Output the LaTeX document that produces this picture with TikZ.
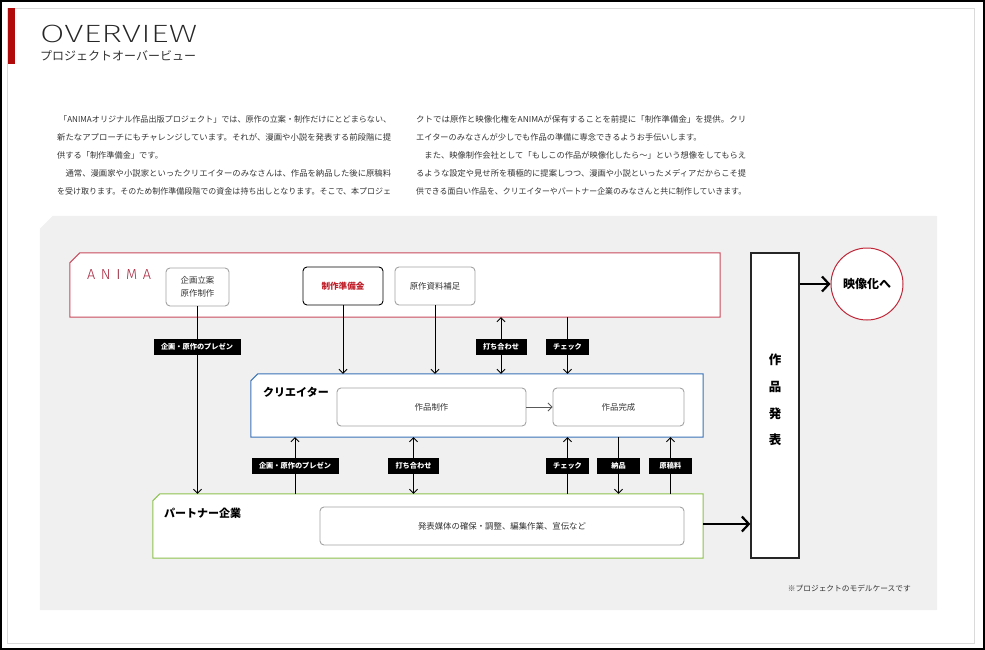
\documentclass[tikz,border=0pt]{standalone}
\usepackage{fontspec}
\usepackage{graphicx}
\setmainfont{Noto Sans CJK JP}
\newfontfamily\latinfont{Liberation Sans}
\IfFontExistsTF{Fira Sans ExtraLight}{\newfontfamily\thinfont{Fira Sans ExtraLight}}{%
  \IfFontExistsTF{Fira Sans Light}{\newfontfamily\thinfont{Fira Sans Light}}{\newfontfamily\thinfont{Liberation Sans}}}
\IfFontExistsTF{Fira Sans Light}{\newfontfamily\lightfont{Fira Sans Light}}{\newfontfamily\lightfont{Liberation Sans}}
\usetikzlibrary{arrows.meta}
\definecolor{barred}{HTML}{B00A0A}
\definecolor{animared}{HTML}{C84B5C}
\definecolor{animatext}{HTML}{A82840}
\definecolor{animai}{HTML}{8A0A22}
\definecolor{creblue}{HTML}{3A72B8}
\definecolor{pargreen}{HTML}{8DC24F}
\definecolor{bggray}{HTML}{F0F0F0}
\definecolor{txtgray}{HTML}{333333}
\definecolor{boxgray}{HTML}{A3A3A3}
\definecolor{redtxt}{HTML}{C0202A}
\definecolor{circred}{HTML}{C0283A}
\definecolor{framegray}{HTML}{DADADA}
\tikzset{
  bodytext/.style={anchor=west, inner sep=0pt, text=txtgray, font=\fontsize{8.2pt}{10pt}\selectfont},
  bigbox/.style={rectangle, inner sep=0pt},
  bigline/.style={fill=white, line width=1pt},
  innerbox/.style={draw=boxgray, fill=white, rounded corners=4pt, line width=0.9pt, inner sep=0pt,
     text=txtgray, font=\fontsize{8.4pt}{13pt}\selectfont, align=center},
  lbl/.style={fill=black, text=white, font=\bfseries\fontsize{7.2pt}{8pt}\selectfont,
     minimum height=16pt, inner xsep=7.5pt, inner ysep=0pt},
  conn/.style={line width=0.9pt, draw=black},
  tip/.style={-{Straight Barb[length=4pt,width=8pt,line width=0.9pt]}},
  tips/.style={{Straight Barb[length=4pt,width=8pt,line width=0.9pt]}-{Straight Barb[length=4pt,width=8pt,line width=0.9pt]}},
  bigarrow/.style={line width=2.4pt, -{Straight Barb[length=7pt,width=15pt,line width=2.2pt]}},
  boxtitle/.style={anchor=west, inner sep=0pt, font=\bfseries\fontsize{11pt}{12pt}\selectfont, text=black}
}
\begin{document}
\begin{tikzpicture}[x=1pt,y=-1pt]
\useasboundingbox (0,0) rectangle (985,650);
% frames
\draw[framegray, line width=0.8pt] (7,8) rectangle (974,643);
\draw[black, line width=1.6pt] (0.8,0.8) rectangle (984.2,649.2);
\fill[barred] (8,8) rectangle (15,64);
% title
\node[anchor=west, inner sep=0pt, text=black!85] (title) at (40,34)
  {\thinfont\fontsize{25pt}{26pt}\selectfont\resizebox{157pt}{\height}{OVERVIEW}};
\node[anchor=west, inner sep=0pt, text=txtgray, font=\fontsize{12pt}{13pt}\selectfont] (subtitle) at (40,56)
  {プロジェクトオーバービュー};
% body text
\node[bodytext] (l1) at (59,119) {\resizebox{332pt}{\height}{「ANIMAオリジナル作品出版プロジェクト」では、原作の立案・制作だけにとどまらない、}};
\node[bodytext] (l2) at (57,137.2) {\resizebox{334pt}{\height}{新たなアプローチにもチャレンジしています。それが、漫画や小説を発表する前段階に提}};
\node[bodytext] (l3) at (57,155.4) {供する「制作準備金」です。};
\node[bodytext] (l4) at (57,173.6) {\resizebox{334pt}{\height}{　通常、漫画家や小説家といったクリエイターのみなさんは、作品を納品した後に原稿料}};
\node[bodytext] (l5) at (57,191.8) {\resizebox{334pt}{\height}{を受け取ります。そのため制作準備段階での資金は持ち出しとなります。そこで、本プロジェ}};
\node[bodytext] (r1) at (416,119) {\resizebox{330pt}{\height}{クトでは原作と映像化権をANIMAが保有することを前提に「制作準備金」を提供。クリ}};
\node[bodytext] (r2) at (416,137.2) {エイターのみなさんが少しでも作品の準備に専念できるようお手伝いします。};
\node[bodytext] (r3) at (416,155.4) {\resizebox{330pt}{\height}{　また、映像制作会社として「もしこの作品が映像化したら〜」という想像をしてもらえ}};
\node[bodytext] (r4) at (416,173.6) {\resizebox{330pt}{\height}{るような設定や見せ所を積極的に提案しつつ、漫画や小説といったメディアだからこそ提}};
\node[bodytext] (r5) at (416,191.8) {\resizebox{330pt}{\height}{供できる面白い作品を、クリエイターやパートナー企業のみなさんと共に制作していきます。}};
% background
\node[bigbox, minimum width=897pt, minimum height=394pt] (bg) at (488.5,413) {};
\fill[bggray] ([xshift=13pt]bg.north west) -- (bg.north east) -- (bg.south east) -- (bg.south west) -- ([yshift=-13pt]bg.north west) -- cycle;
% big boxes
\node[bigbox, minimum width=650pt, minimum height=64pt] (anima) at (395,285) {};
\filldraw[bigline, draw=animared] ([xshift=10pt]anima.north west) -- (anima.north east) -- (anima.south east) -- (anima.south west) -- ([yshift=-10pt]anima.north west) -- cycle;
\node[bigbox, minimum width=452pt, minimum height=63pt] (creator) at (477,405.5) {};
\filldraw[bigline, draw=creblue] ([xshift=7pt]creator.north west) -- (creator.north east) -- (creator.south east) -- (creator.south west) -- ([yshift=-7pt]creator.north west) -- cycle;
\node[bigbox, minimum width=550pt, minimum height=64pt] (partner) at (428,526) {};
\filldraw[bigline, draw=pargreen] ([xshift=7pt]partner.north west) -- (partner.north east) -- (partner.south east) -- (partner.south west) -- ([yshift=-7pt]partner.north west) -- cycle;
\node[draw=black!85, fill=white, line width=1.3pt, inner sep=0pt, minimum width=48pt, minimum height=305pt] (happyo) at (775,405.5) {};
\node[circle, draw=circred, fill=white, line width=1pt, inner sep=0pt, minimum size=72pt,
      font=\bfseries\fontsize{12pt}{13pt}\selectfont] (circ) at (867,284) {映像化へ};
% box titles
\node[anchor=west, inner sep=0pt, text=animatext] (animalogo) at (87,274.5)
  {\lightfont\fontsize{14.5pt}{15pt}\selectfont A\hspace{5.6pt}N\hspace{5.6pt}{\color{animai}I}\hspace{5.6pt}M\hspace{5.6pt}A};
\node[boxtitle] (cretitle) at (263,392) {クリエイター};
\node[boxtitle] (partitle) at (164,513) {パートナー企業};
\node[inner sep=0pt, align=center, font=\bfseries\fontsize{12.5pt}{26.7pt}\selectfont] (happyotxt) at (775,400) {作\\品\\発\\表};
% inner boxes
\node[innerbox, minimum width=63pt, minimum height=38pt] (kikaku) at (197.5,287) {企画立案\\原作制作};
\node[innerbox, draw=black, minimum width=80pt, minimum height=38pt, text=redtxt,
      font=\bfseries\fontsize{8.6pt}{10pt}\selectfont] (junbi) at (343,286) {制作準備金};
\node[innerbox, minimum width=80pt, minimum height=38pt] (shiryo) at (435,286) {原作資料補足};
\node[innerbox, minimum width=189pt, minimum height=38pt] (seisaku) at (431.5,407) {作品制作};
\node[innerbox, minimum width=131pt, minimum height=38pt] (kansei) at (618.5,407) {作品完成};
\node[innerbox, minimum width=364pt, minimum height=38pt] (baitai) at (502,526) {発表媒体の確保・調整、編集作業、宣伝など};
% connectors top
\draw[conn,tip] (kikaku.south) -- (kikaku.south |- partner.north);
\draw[conn,tip] (junbi.south) -- (junbi.south |- creator.north);
\draw[conn,tip] (shiryo.south) -- (shiryo.south |- creator.north);
\node[lbl] (pres1) at (197,347) {企画・原作のプレゼン};
\node[lbl] (uchi1) at (501,347) {打ち合わせ};
\node[lbl, minimum width=43pt] (check1) at (567.5,347) {チェック};
\draw[conn,tips] (anima.south -| uchi1) -- (creator.north -| uchi1);
\draw[conn,tip] (anima.south -| check1) -- (creator.north -| check1);
\node[lbl] at (501,347) {打ち合わせ};
\node[lbl, minimum width=43pt] at (567.5,347) {チェック};
% creator inner arrow
\draw[line width=0.8pt, draw=black!65, -{Straight Barb[length=4pt,width=8pt,line width=0.8pt]}] (seisaku.east) -- (kansei.west);
% connectors bottom
\node[lbl] (pres2) at (295,466) {企画・原作のプレゼン};
\node[lbl] (uchi2) at (413.5,466) {打ち合わせ};
\node[lbl, minimum width=43pt] (check2) at (567.5,466) {チェック};
\node[lbl, minimum width=43pt] (nouhin) at (618.5,466) {納品};
\node[lbl, minimum width=43pt] (genko) at (670.5,466) {原稿料};
\draw[conn,tip] (partner.north -| pres2) -- (creator.south -| pres2);
\draw[conn,tips] (creator.south -| uchi2) -- (partner.north -| uchi2);
\draw[conn,tip] (partner.north -| check2) -- (creator.south -| check2);
\draw[conn,tip] (creator.south -| nouhin) -- (partner.north -| nouhin);
\draw[conn,tip] (partner.north -| genko) -- (creator.south -| genko);
\node[lbl] at (295,466) {企画・原作のプレゼン};
\node[lbl] at (413.5,466) {打ち合わせ};
\node[lbl, minimum width=43pt] at (567.5,466) {チェック};
\node[lbl, minimum width=43pt] at (618.5,466) {納品};
\node[lbl, minimum width=43pt] at (670.5,466) {原稿料};
% big arrows
\draw[bigarrow] (partner.east |- 0,524) -- (happyo.west |- 0,524);
\draw[bigarrow] (happyo.east |- circ.west) -- (circ.west);
% footnote
\node[anchor=east, inner sep=0pt, text=txtgray, font=\fontsize{7.7pt}{9pt}\selectfont] (note) at (911,588) {※プロジェクトのモデルケースです};
\end{tikzpicture}
\end{document}
